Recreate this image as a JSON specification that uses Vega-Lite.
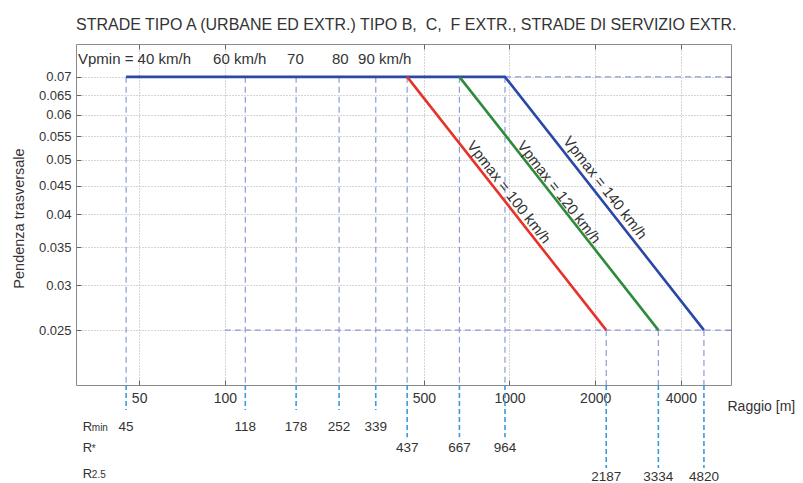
{
  "$schema": "https://vega.github.io/schema/vega-lite/v6.json",
  "width": 655,
  "height": 341,
  "autosize": "none",
  "padding": {"left": 76, "top": 44, "right": 72, "bottom": 98},
  "background": "white",
  "title": {
    "text": "STRADE TIPO A (URBANE ED EXTR.) TIPO B,\u00a0 C,\u00a0 F EXTR., STRADE DI SERVIZIO EXTR.",
    "fontSize": 16, "font": "Liberation Sans", "fontWeight": "normal", "color": "#333333",
    "offset": 11, "anchor": "start", "frame": "group"
  },
  "config": {
    "font": "Liberation Sans",
    "view": {"stroke": "#8a8a8a", "strokeWidth": 1}
  },
  "datasets": {
    "curves": [
      {"V": "140", "R": 45, "q": 0.07},
      {"V": "140", "R": 964, "q": 0.07},
      {"V": "140", "R": 4820, "q": 0.025},
      {"V": "120", "R": 667, "q": 0.07},
      {"V": "120", "R": 3334, "q": 0.025},
      {"V": "100", "R": 437, "q": 0.07},
      {"V": "100", "R": 2187, "q": 0.025}
    ],
    "curveLabels": [
      {"V": "100", "t": "Vpmax = 100 km/h", "R": 995, "q": 0.0438},
      {"V": "120", "t": "Vpmax = 120 km/h", "R": 1493, "q": 0.0438},
      {"V": "140", "t": "Vpmax = 140 km/h", "R": 2167, "q": 0.0446}
    ],
    "guides": [
      {"R": 964, "R2": 6000, "q": 0.07, "q2": 0.07},
      {"R": 100, "R2": 6000, "q": 0.025, "q2": 0.025},
      {"R": 45, "R2": 45, "q": 0.07, "q2": 0.02},
      {"R": 118, "R2": 118, "q": 0.07, "q2": 0.02},
      {"R": 178, "R2": 178, "q": 0.07, "q2": 0.02},
      {"R": 252, "R2": 252, "q": 0.07, "q2": 0.02},
      {"R": 339, "R2": 339, "q": 0.07, "q2": 0.02},
      {"R": 437, "R2": 437, "q": 0.07, "q2": 0.02},
      {"R": 667, "R2": 667, "q": 0.07, "q2": 0.02},
      {"R": 964, "R2": 964, "q": 0.07, "q2": 0.02},
      {"R": 2187, "R2": 2187, "q": 0.025, "q2": 0.02},
      {"R": 3334, "R2": 3334, "q": 0.025, "q2": 0.02},
      {"R": 4820, "R2": 4820, "q": 0.025, "q2": 0.02}
    ],
    "radii": [
      {"R": 45, "q": 0.02, "qEnd": 0.01807, "qLab": 0.01686},
      {"R": 118, "q": 0.02, "qEnd": 0.01807, "qLab": 0.01686},
      {"R": 178, "q": 0.02, "qEnd": 0.01807, "qLab": 0.01686},
      {"R": 252, "q": 0.02, "qEnd": 0.01807, "qLab": 0.01686},
      {"R": 339, "q": 0.02, "qEnd": 0.01807, "qLab": 0.01686},
      {"R": 437, "q": 0.02, "qEnd": 0.01618, "qLab": 0.01545},
      {"R": 667, "q": 0.02, "qEnd": 0.01618, "qLab": 0.01545},
      {"R": 964, "q": 0.02, "qEnd": 0.01618, "qLab": 0.01545},
      {"R": 2187, "q": 0.02, "qEnd": 0.01427, "qLab": 0.01376},
      {"R": 3334, "q": 0.02, "qEnd": 0.01427, "qLab": 0.01376},
      {"R": 4820, "q": 0.02, "qEnd": 0.01427, "qLab": 0.01376}
    ],
    "rows": [
      {"R": 31.7, "q": 0.01686, "h": "R", "s": "min"},
      {"R": 31.7, "q": 0.0155, "h": "R", "s": "*"},
      {"R": 31.7, "q": 0.0139, "h": "R", "s": "2.5"}
    ],
    "speeds": [
      {"R": 30.49, "q": 0.0754, "t": "Vpmin = 40 km/h"},
      {"R": 90.9, "q": 0.0754, "t": "60 km/h"},
      {"R": 165.4, "q": 0.0754, "t": "70"},
      {"R": 237.8, "q": 0.0754, "t": "80"},
      {"R": 293.8, "q": 0.0754, "t": "90 km/h"}
    ]
  },
  "resolve": {"axis": {"x": "independent", "y": "independent"}},
  "layer": [
    {
      "data": {"name": "guides"},
      "mark": {"type": "rule", "color": "#8d9bd8", "strokeWidth": 1.2, "strokeDash": [6, 4]},
      "encoding": {
        "x": {"field": "R", "type": "quantitative", "scale": {"type": "log", "domain": [30, 6000], "nice": false},
          "axis": {"orient": "top", "labels": false, "title": null, "grid": false, "domain": false,
            "values": [50, 100, 500, 1000, 2000, 4000], "tickSize": {"expr": "-5"}, "tickColor": "#666666"}},
        "x2": {"field": "R2"},
        "y": {"field": "q", "type": "quantitative", "scale": {"type": "log", "domain": [0.02, 0.08], "nice": false},
          "axis": {"orient": "right", "labels": false, "title": null, "grid": false, "domain": false,
            "values": [0.025, 0.03, 0.035, 0.04, 0.045, 0.05, 0.055, 0.06, 0.065, 0.07], "tickSize": {"expr": "-5"}, "tickColor": "#666666"}},
        "y2": {"field": "q2"}
      }
    },
    {
      "data": {"name": "radii"},
      "mark": {"type": "rule", "color": "#3d9ad8", "strokeWidth": 1.6, "strokeDash": [5, 3]},
      "encoding": {
        "x": {"field": "R", "type": "quantitative", "scale": {"type": "log", "domain": [30, 6000], "nice": false}, "axis": null},
        "y": {"field": "q", "type": "quantitative", "scale": {"type": "log", "domain": [0.02, 0.08], "nice": false}, "axis": null},
        "y2": {"field": "qEnd"}
      }
    },
    {
      "data": {"name": "curves"},
      "mark": {"type": "line", "strokeWidth": 2.6},
      "encoding": {
        "x": {"field": "R", "type": "quantitative", "scale": {"type": "log", "domain": [30, 6000], "nice": false},
          "axis": {"orient": "bottom", "title": "Raggio [m]", "values": [50, 100, 500, 1000, 2000, 4000], "format": "d",
            "grid": true, "gridDash": [1, 2], "gridColor": "#aaaaaa", "domain": false,
            "tickSize": {"expr": "-5"}, "tickColor": "#666666", "labelPadding": 11, "labelFontSize": 14, "labelColor": "#333333",
            "titleX": 651, "titleY": 21, "titleAlign": "left", "titleBaseline": "middle", "titleAngle": 0,
            "titleFontWeight": "normal", "titleFontSize": 14, "titleColor": "#333333"}},
        "y": {"field": "q", "type": "quantitative", "scale": {"type": "log", "domain": [0.02, 0.08], "nice": false},
          "axis": {"orient": "left", "title": "Pendenza trasversale", "values": [0.025, 0.03, 0.035, 0.04, 0.045, 0.05, 0.055, 0.06, 0.065, 0.07],
            "format": "~g", "grid": true, "gridDash": [1, 2], "gridColor": "#aaaaaa", "domain": false,
            "tickSize": {"expr": "-5"}, "tickColor": "#666666", "labelPadding": 10, "labelFontSize": 13, "labelColor": "#333333",
            "titleX": -57, "titleY": 174, "titleAlign": "center", "titleBaseline": "middle", "titleAngle": -90,
            "titleFontWeight": "normal", "titleFontSize": 14.5, "titleColor": "#333333"}},
        "color": {"field": "V", "type": "nominal", "scale": {"domain": ["100", "120", "140"], "range": ["#e6332a", "#2e8b3e", "#2b47a8"]}, "legend": null}
      }
    },
    {
      "data": {"name": "curveLabels"},
      "mark": {"type": "text", "angle": 52, "fontSize": 15, "color": "#333333", "align": "center", "baseline": "middle"},
      "encoding": {
        "x": {"field": "R", "type": "quantitative", "scale": {"type": "log", "domain": [30, 6000], "nice": false}, "axis": null},
        "y": {"field": "q", "type": "quantitative", "scale": {"type": "log", "domain": [0.02, 0.08], "nice": false}, "axis": null},
        "text": {"field": "t"}
      }
    },
    {
      "data": {"name": "speeds"},
      "mark": {"type": "text", "fontSize": 15, "color": "#333333", "align": "left", "baseline": "middle"},
      "encoding": {
        "x": {"field": "R", "type": "quantitative", "scale": {"type": "log", "domain": [30, 6000], "nice": false}, "axis": null},
        "y": {"field": "q", "type": "quantitative", "scale": {"type": "log", "domain": [0.02, 0.08], "nice": false}, "axis": null},
        "text": {"field": "t"}
      }
    },
    {
      "data": {"name": "radii"},
      "mark": {"type": "text", "fontSize": 13.5, "color": "#333333", "align": "center", "baseline": "middle"},
      "encoding": {
        "x": {"field": "R", "type": "quantitative", "scale": {"type": "log", "domain": [30, 6000], "nice": false}, "axis": null},
        "y": {"field": "qLab", "type": "quantitative", "scale": {"type": "log", "domain": [0.02, 0.08], "nice": false}, "axis": null},
        "text": {"field": "R", "type": "quantitative", "format": "d"}
      }
    },
    {
      "data": {"name": "rows"},
      "mark": {"type": "text", "fontSize": 13, "color": "#333333", "align": "left", "baseline": "middle"},
      "encoding": {
        "x": {"field": "R", "type": "quantitative", "scale": {"type": "log", "domain": [30, 6000], "nice": false}, "axis": null},
        "y": {"field": "q", "type": "quantitative", "scale": {"type": "log", "domain": [0.02, 0.08], "nice": false}, "axis": null},
        "text": {"field": "h"}
      }
    },
    {
      "data": {"name": "rows"},
      "mark": {"type": "text", "fontSize": 10, "color": "#333333", "align": "left", "baseline": "middle", "dx": 9, "dy": 1},
      "encoding": {
        "x": {"field": "R", "type": "quantitative", "scale": {"type": "log", "domain": [30, 6000], "nice": false}, "axis": null},
        "y": {"field": "q", "type": "quantitative", "scale": {"type": "log", "domain": [0.02, 0.08], "nice": false}, "axis": null},
        "text": {"field": "s"}
      }
    }
  ]
}
